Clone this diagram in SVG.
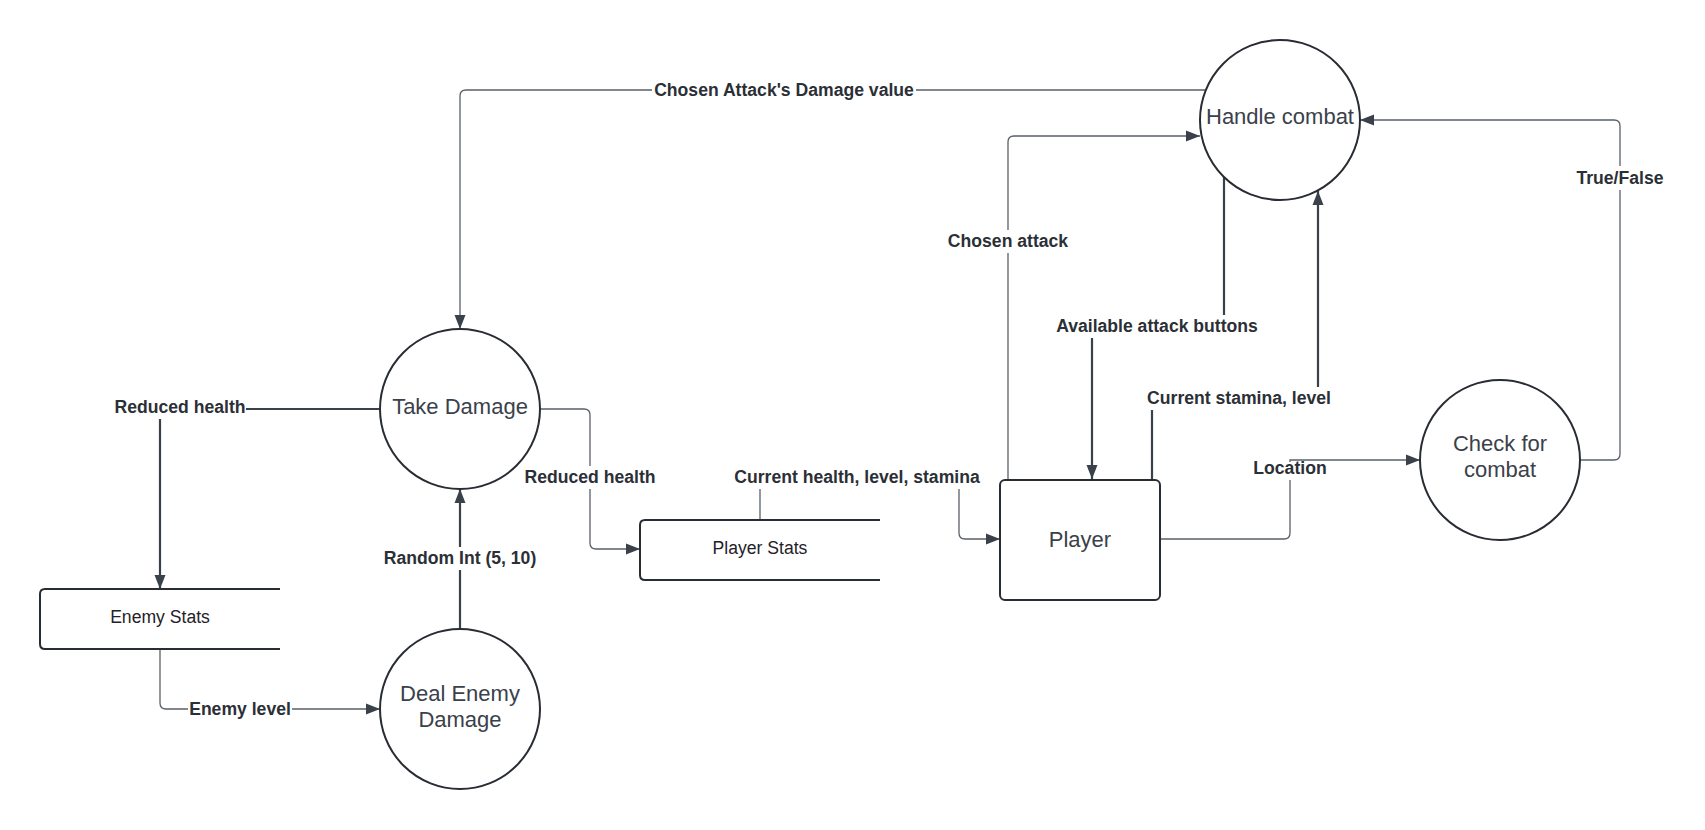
<svg xmlns="http://www.w3.org/2000/svg" width="1705" height="830" viewBox="0 0 1705 830">
<style>
.node{fill:#ffffff;stroke:#282c33;stroke-width:2}
.store{fill:none;stroke:#282c33;stroke-width:2}
.nt{font-family:"Liberation Sans",Arial,sans-serif;font-size:22px;fill:#3a414a;text-anchor:middle}
.st{font-family:"Liberation Sans",Arial,sans-serif;font-size:17.6px;fill:#1f2228;text-anchor:middle}
.thin{fill:none;stroke:#5a606a;stroke-width:1.3}
.thick{fill:none;stroke:#3a414a;stroke-width:2.2}
.bg{fill:#ffffff}
.lbl{font-family:"Liberation Sans",Arial,sans-serif;font-size:17.6px;font-weight:bold;fill:#2b2f36;text-anchor:middle}
</style>
<defs>
<marker id="arr" markerUnits="userSpaceOnUse" markerWidth="16" markerHeight="12" refX="14" refY="6" orient="auto">
<path d="M0,0.5 L14,6 L0,11.5 Z" fill="#3a414a"/>
</marker>
</defs>
<rect width="1705" height="830" fill="#ffffff"/>
<g id="connectors">
<path class="thin" d="M1206,90 H466 Q460,90 460,96 V329" marker-end="url(#arr)"/>
<path class="thin" d="M1008,480 V142 Q1008,136 1014,136 H1200" marker-end="url(#arr)"/>
<path class="thick" d="M1224,177 V326 H1092 V479" marker-end="url(#arr)"/>
<path class="thick" d="M1152,480 V398 H1318 V191" marker-end="url(#arr)"/>
<path class="thin" d="M1160,539 H1284 Q1290,539 1290,533 V460 H1420" marker-end="url(#arr)"/>
<path class="thin" d="M1580,460 H1614 Q1620,460 1620,454 V126 Q1620,120 1614,120 H1360" marker-end="url(#arr)"/>
<path class="thin" d="M760,520 V477 H959 V533 Q959,539 965,539 H1000" marker-end="url(#arr)"/>
<path class="thin" d="M540,409 H584 Q590,409 590,415 V543 Q590,549 596,549 H640" marker-end="url(#arr)"/>
<path class="thick" d="M380,409 H160 V589" marker-end="url(#arr)"/>
<path class="thick" d="M460,629 V489" marker-end="url(#arr)"/>
<path class="thin" d="M160,649 V703 Q160,709 166,709 H380" marker-end="url(#arr)"/>
<rect class="bg" x="652" y="79" width="264" height="22"/>
<rect class="bg" x="946" y="230" width="124" height="23"/>
<rect class="bg" x="1054" y="315" width="206" height="23"/>
<rect class="bg" x="1145" y="387" width="188" height="23"/>
<rect class="bg" x="1252" y="462" width="76" height="18"/>
<rect class="bg" x="1575" y="166" width="90" height="24"/>
<rect class="bg" x="732" y="466" width="250" height="23"/>
<rect class="bg" x="524" y="466" width="132" height="23"/>
<rect class="bg" x="114" y="396" width="132" height="23"/>
<rect class="bg" x="382" y="547" width="156" height="23"/>
<rect class="bg" x="188" y="698" width="104" height="22"/>
<text class="lbl" x="784" y="96">Chosen Attack's Damage value</text>
<text class="lbl" x="1008" y="247">Chosen attack</text>
<text class="lbl" x="1157" y="332">Available attack buttons</text>
<text class="lbl" x="1239" y="404">Current stamina, level</text>
<text class="lbl" x="1290" y="474">Location</text>
<text class="lbl" x="1620" y="184">True/False</text>
<text class="lbl" x="857" y="483">Current health, level, stamina</text>
<text class="lbl" x="590" y="483">Reduced health</text>
<text class="lbl" x="180" y="413">Reduced health</text>
<text class="lbl" x="460" y="564">Random Int (5, 10)</text>
<text class="lbl" x="240" y="715">Enemy level</text>
</g>
<g id="take-damage">
<circle class="node" cx="460" cy="409" r="80"/>
<text class="nt" x="460" y="414">Take Damage</text>
</g>
<g id="deal-enemy-damage">
<circle class="node" cx="460" cy="709" r="80"/>
<text class="nt" x="460" y="701">Deal Enemy</text>
<text class="nt" x="460" y="727">Damage</text>
</g>
<g id="handle-combat">
<circle class="node" cx="1280" cy="120" r="80"/>
<text class="nt" x="1280" y="124">Handle combat</text>
</g>
<g id="check-for-combat">
<circle class="node" cx="1500" cy="460" r="80"/>
<text class="nt" x="1500" y="451">Check for</text>
<text class="nt" x="1500" y="477">combat</text>
</g>
<g id="player">
<rect class="node" x="1000" y="480" width="160" height="120" rx="5"/>
<text class="nt" x="1080" y="547">Player</text>
</g>
<g id="player-stats">
<path class="store" d="M880,520 H645 Q640,520 640,525 V575 Q640,580 645,580 H880"/>
<text class="st" x="760" y="554">Player Stats</text>
</g>
<g id="enemy-stats">
<path class="store" d="M280,589 H45 Q40,589 40,594 V644 Q40,649 45,649 H280"/>
<text class="st" x="160" y="623">Enemy Stats</text>
</g>
</svg>
